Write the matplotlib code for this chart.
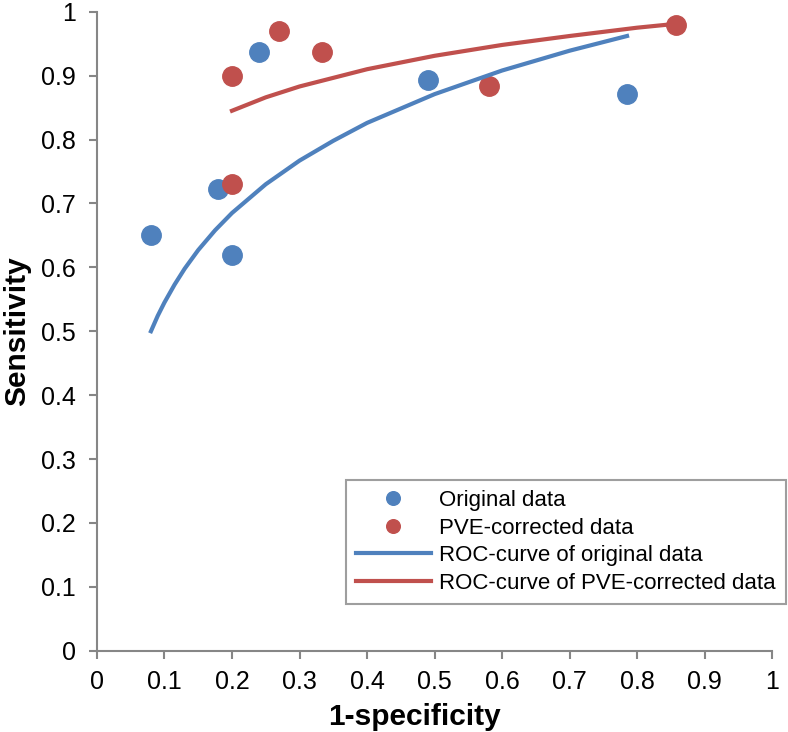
import matplotlib.pyplot as plt

# scatter points
orig_x = [0.08, 0.18, 0.20, 0.24, 0.49, 0.785]
orig_y = [0.65, 0.722, 0.62, 0.937, 0.893, 0.871]
pve_x = [0.20, 0.20, 0.27, 0.333, 0.58, 0.857]
pve_y = [0.90, 0.73, 0.97, 0.937, 0.884, 0.979]

# ROC curves, points
roc_orig_x = [0.08, 0.09, 0.10, 0.115, 0.13, 0.15, 0.175, 0.20, 0.25, 0.30, 0.35,
              0.40, 0.50, 0.60, 0.70, 0.785]
roc_orig_y = [0.500, 0.524, 0.545, 0.573, 0.598, 0.627, 0.658, 0.685, 0.730, 0.767,
              0.798, 0.826, 0.871, 0.908, 0.939, 0.962]
roc_pve_x = [0.20, 0.25, 0.30, 0.40, 0.50, 0.60, 0.70, 0.80, 0.857]
roc_pve_y = [0.845, 0.866, 0.883, 0.910, 0.931, 0.948, 0.962, 0.975, 0.981]

ticks = [0, 0.1, 0.2, 0.3, 0.4, 0.5, 0.6, 0.7, 0.8, 0.9, 1]
tick_labels = ['0', '0.1', '0.2', '0.3', '0.4', '0.5', '0.6', '0.7', '0.8', '0.9', '1']

BLUE = '#4F81BD'
RED = '#C0504D'

plt.rcParams['font.family'] = ['Liberation Sans', 'DejaVu Sans']

fig = plt.figure(figsize=(7.88, 7.32), dpi=100)
ax = fig.add_axes([0.123, 0.111, 0.857, 0.873])

ax.plot(orig_x, orig_y, 'o', color=BLUE, markersize=14, label='Original data')
ax.plot(pve_x, pve_y, 'o', color=RED, markersize=14, label='PVE-corrected data')
ax.plot(roc_orig_x, roc_orig_y, '-', color=BLUE, lw=3, label='ROC-curve of original data')
ax.plot(roc_pve_x, roc_pve_y, '-', color=RED, lw=3, label='ROC-curve of PVE-corrected data')

ax.set_xlim(0, 1)
ax.set_ylim(0, 1)
ax.set_xticks(ticks)
ax.set_xticklabels(tick_labels)
ax.set_yticks(ticks)
ax.set_yticklabels(tick_labels)
ax.tick_params(direction='out', length=6, width=1.5, color='#868686', labelsize=18)
ax.tick_params(axis='x', pad=8)
ax.tick_params(axis='y', pad=9)

for side in ['top', 'right']:
    ax.spines[side].set_visible(False)
for side in ['left', 'bottom']:
    ax.spines[side].set_color('#868686')
    ax.spines[side].set_linewidth(1.5)

ax.set_xlabel('1-specificity', fontsize=21.5, fontweight='bold')
ax.set_ylabel('Sensitivity', fontsize=21.5, fontweight='bold')
ax.xaxis.set_label_coords(0.47, -0.082)
ax.yaxis.set_label_coords(-0.098, 0.5)

leg = ax.legend(loc='lower right', bbox_to_anchor=(0.997, 0.175), bbox_transform=fig.transFigure,
                fontsize=16, frameon=True, fancybox=False, borderpad=0.45, markerscale=0.7,
                handlelength=3.4, labelspacing=0.3, handletextpad=0.35, borderaxespad=0)
leg.get_frame().set_edgecolor('#868686')
leg.get_frame().set_linewidth(1.5)

fig.savefig('out.png', dpi=100)
